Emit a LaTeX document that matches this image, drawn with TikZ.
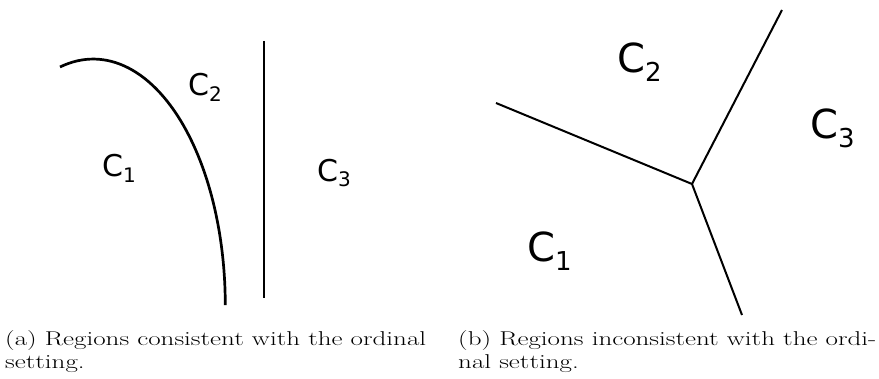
\documentclass[tikz,border=0pt]{standalone}
\usepackage{fontspec}
\usepackage{graphicx}
\newfontfamily\lblfont{DejaVu Sans}
\newcommand{\captxt}[1]{\scalebox{1.35}[1]{#1}}
\begin{document}
\begin{tikzpicture}[x=1pt,y=-1pt,
  thickline/.style={line width=2.7pt},
  thinline/.style={line width=2pt},
  lblsmall/.style={inner sep=0pt,anchor=base west,font=\lblfont\fontsize{30}{30}\selectfont},
  lblbig/.style={inner sep=0pt,anchor=base west,font=\lblfont\fontsize{40}{40}\selectfont},
  captext/.style={inner sep=0pt,anchor=base west,font=\fontsize{20}{23}\selectfont}]
\useasboundingbox (0,0) rectangle (879,379);
% left panel
\coordinate (cstart) at (60,67);
\draw[thickline] (cstart) arc[start angle=-104.6, end angle=0, x radius=132, y radius=246];
\coordinate (vtop) at (264,41);
\coordinate (vbot) at (264,298);
\draw[thickline] (vtop) -- (vbot);
\node[lblsmall] (la1) at (102,177) {C\raisebox{-6pt}{\fontsize{20}{20}\selectfont 1}};
\node[lblsmall] (la2) at (188,96) {C\raisebox{-6pt}{\fontsize{20}{20}\selectfont 2}};
\node[lblsmall] (la3) at (317,182) {C\raisebox{-5pt}{\fontsize{20}{20}\selectfont 3}};
% right panel
\coordinate (j) at (692,184);
\coordinate (e1) at (496,103);
\coordinate (e2) at (782,10);
\coordinate (e3) at (742,315);
\draw[thinline] (e1) -- (j);
\draw[thinline] (e2) -- (j);
\draw[thinline] (e3) -- (j);
\node[lblbig] (lb1) at (527,262) {C\raisebox{-9pt}{\fontsize{26}{26}\selectfont 1}};
\node[lblbig] (lb2) at (617,73) {C\raisebox{-9pt}{\fontsize{26}{26}\selectfont 2}};
\node[lblbig] (lb3) at (810,139) {C\raisebox{-9pt}{\fontsize{26}{26}\selectfont 3}};
% captions
\node[captext] (ca1) at (5,346) {\captxt{(a) Regions consistent with the ordinal}};
\node[captext] (ca2) at (5,369) {\captxt{setting.}};
\node[captext] (cb1) at (458,346) {\captxt{(b) Regions inconsistent with the ordi-}};
\node[captext] (cb2) at (458,369) {\captxt{nal setting.}};
\end{tikzpicture}
\end{document}
